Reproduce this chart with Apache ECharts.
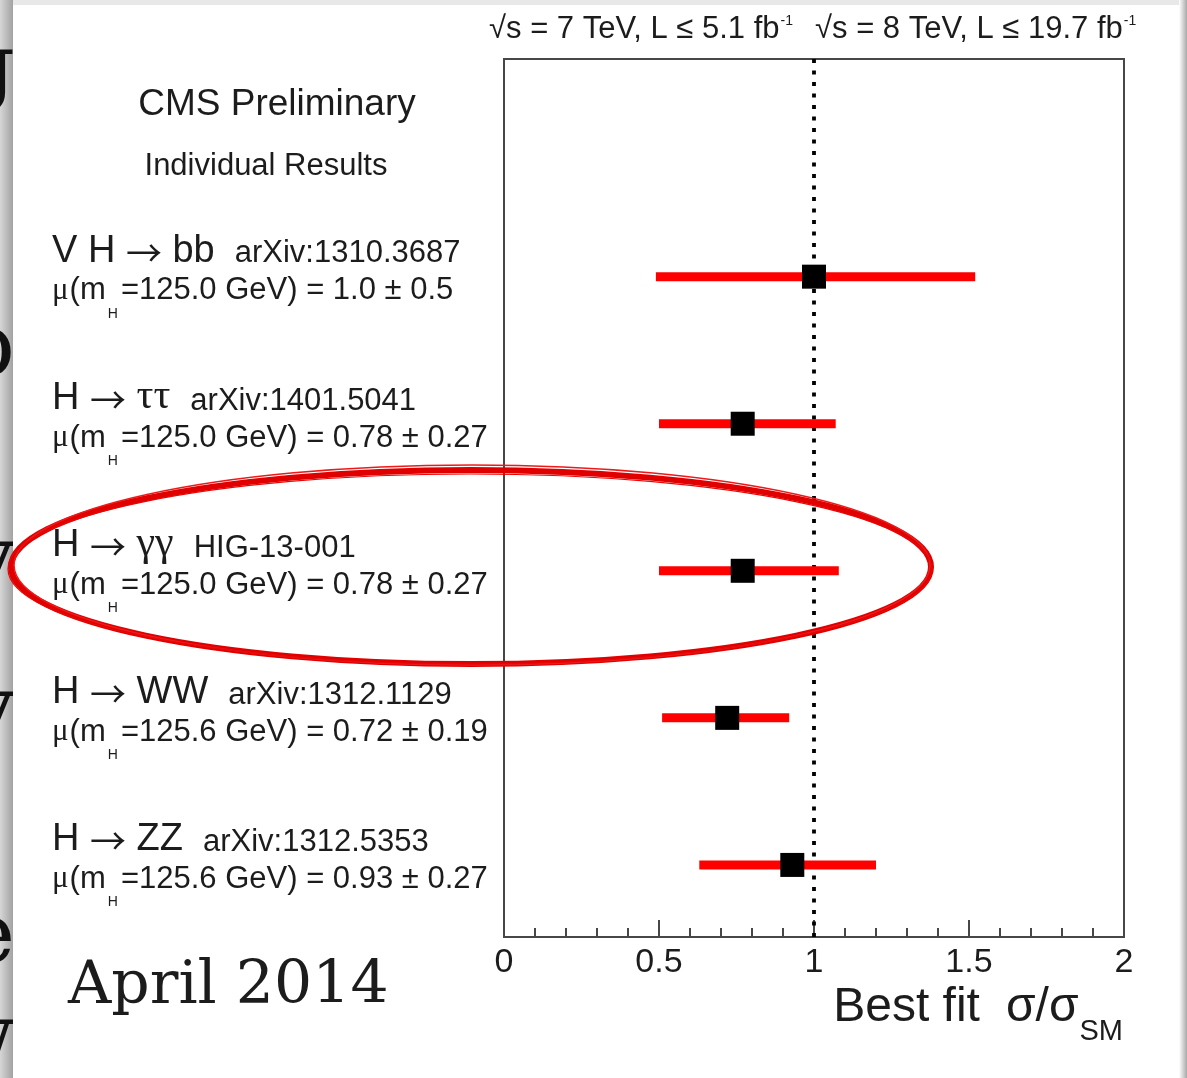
<!DOCTYPE html>
<html><head><meta charset="utf-8">
<script src="https://cdn.jsdelivr.net/npm/echarts@6/dist/echarts.min.js"></script>
<style>html,body{margin:0;padding:0;background:#fff}#c{width:1187px;height:1078px}</style>
</head><body><div id="c"></div>
<script>
// ---------------- data ----------------
const channels   = ['V H → bb', 'H → ττ', 'H → γγ', 'H → WW', 'H → ZZ'];
const references = ['arXiv:1310.3687', 'arXiv:1401.5041', 'HIG-13-001', 'arXiv:1312.1129', 'arXiv:1312.5353'];
const higgsMass  = ['125.0', '125.0', '125.0', '125.6', '125.6'];
const muSummary  = ['1.0 ± 0.5', '0.78 ± 0.27', '0.78 ± 0.27', '0.72 ± 0.19', '0.93 ± 0.27'];
const muBest     = [1.0, 0.77, 0.77, 0.72, 0.93];
const muLow      = [0.49, 0.50, 0.50, 0.51, 0.63];
const muHigh     = [1.52, 1.07, 1.08, 0.92, 1.20];
const smReference = 1;
const energyLabels = [['√s = 7 TeV, L ≤ 5.1 fb', '-1'], ['√s = 8 TeV, L ≤ 19.7 fb', '-1']];
const titleText = 'CMS Preliminary';
const subtitleText = 'Individual Results';
const axisTitle = ['Best fit', 'σ/σ', 'SM'];
const dateText = 'April 2014';

// ---------------- helpers ----------------
const SANS = '"Liberation Sans", Arial, sans-serif';
const SERIF = '"Liberation Serif", serif';
const DSERIF = '"DejaVu Serif", serif';
const ARROW = '"Noto Sans CJK JP", "DejaVu Sans", sans-serif';
const INK = '#1c1c1c';
const MID = 0.346;
const cv = document.createElement('canvas').getContext('2d');
function tw(t, s, fam) { cv.font = s + 'px ' + fam; return cv.measureText(t).width; }
function textEl(t, x, base, s, fam, z, color) {
  return { type: 'text', z: z, x: x, y: base - MID * s,
    style: { text: t, fontSize: s, fontFamily: fam, fill: color || INK, textAlign: 'left', textVerticalAlign: 'middle' } };
}
function runs(x, base, list, opt) {
  opt = opt || {};
  const total = list.reduce((a, r) => a + tw(r.t, r.s, r.fam || SANS) + (r.gap || 0), 0);
  let cx = x;
  if (opt.align === 'right') cx = x - total;
  if (opt.align === 'center') cx = x - total / 2;
  const out = [];
  list.forEach(r => {
    const fam = r.fam || SANS;
    out.push(textEl(r.t, cx, base + (r.dy || 0), r.s, fam, opt.z || 8, r.color));
    cx += tw(r.t, r.s, fam) + (r.gap || 0);
  });
  return out;
}
// split a string into runs: greek -> serif, arrow -> thin CJK arrow, rest -> sans
function segs(str, s) {
  const out = [];
  for (const ch of str) {
    let r;
    if (/[\u0370-\u03ff]/.test(ch)) r = { t: ch, s: s + 4, fam: SERIF };
    else if (ch === '→') r = { t: ch, s: s - 2, fam: ARROW, dy: 1 };
    else r = { t: ch, s: s, fam: SANS };
    const last = out[out.length - 1];
    if (last && last.fam === r.fam) last.t += ch; else out.push(r);
  }
  return out;
}
const n = channels.length;
const rowValue = i => n - 1 - i;

// ---------------- chart ----------------
const chart = echarts.init(document.getElementById('c'), null, { renderer: 'canvas' });
chart.setOption({
  backgroundColor: '#ffffff',
  animation: false,
  grid: { left: 504, right: 63, top: 59, bottom: 141, show: true, borderColor: '#474747', borderWidth: 2, backgroundColor: 'transparent', z: 3 },
  xAxis: {
    type: 'value', min: 0, max: 2, interval: 0.5, z: 4,
    axisLine: { show: true, onZero: false, lineStyle: { color: '#474747', width: 2 } },
    axisTick: { show: true, inside: true, length: 17, lineStyle: { color: '#474747', width: 2 } },
    minorTick: { show: true, splitNumber: 5, length: 9, lineStyle: { color: '#474747', width: 2 } },
    splitLine: { show: false },
    axisLabel: { fontSize: 34, color: INK, margin: 9, fontFamily: SANS }
  },
  yAxis: { type: 'value', min: -0.49, max: 5.48, show: false, splitLine: { show: false } },
  series: [
    {
      type: 'line', data: [], z: 5, silent: true,
      markLine: {
        silent: true, symbol: ['none', 'none'], label: { show: false },
        lineStyle: { color: '#000', width: 3.8, type: [4, 7.5] },
        data: [{ xAxis: smReference }]
      }
    },
    {
      type: 'custom', z: 6, silent: true,
      data: muLow.map((lo, i) => [lo, rowValue(i), muHigh[i]]),
      encode: { x: [0, 2], y: 1 },
      renderItem: function (params, api) {
        const y = api.value(1);
        const p1 = api.coord([api.value(0), y]);
        const p2 = api.coord([api.value(2), y]);
        return { type: 'line', shape: { x1: p1[0], y1: p1[1], x2: p2[0], y2: p2[1] },
                 style: { stroke: '#ff0000', lineWidth: 9, lineCap: 'butt' } };
      }
    },
    {
      type: 'scatter', z: 7, silent: true,
      symbol: 'rect', symbolSize: 24,
      itemStyle: { color: '#000', opacity: 1 },
      data: muBest.map((v, i) => [v, rowValue(i)])
    }
  ]
});

// ---------------- annotations ----------------
const els = [];
els.push({ type: 'rect', z: 0, shape: { x: 0, y: 0, width: 1187, height: 5 }, style: { fill: '#e8e8e8' } });
els.push({ type: 'rect', z: 0, shape: { x: 0, y: 0, width: 13, height: 1078 },
  style: { fill: new echarts.graphic.LinearGradient(0, 0, 1, 0, [{ offset: 0, color: '#d6d6d6' }, { offset: 1, color: '#a2a2a2' }]) } });
els.push({ type: 'rect', z: 0, shape: { x: 1179, y: 0, width: 8, height: 1078 },
  style: { fill: new echarts.graphic.LinearGradient(0, 0, 1, 0, [{ offset: 0, color: '#ffffff' }, { offset: 1, color: '#a8a8a8' }]) } });
[['g', 100], ['b', 381], ['y', 592], ['y', 742], ['e', 969], ['w', 1070]].forEach(g => {
  const s = 85;
  els.push(textEl(g[0], 15 - tw(g[0], s, DSERIF), g[1], s, DSERIF, 1, '#111'));
});
els.push({ type: 'rect', z: 2, shape: { x: 13, y: 5, width: 1166, height: 1073 }, style: { fill: '#ffffff' } });

// header texts
els.push(...runs(277, 118, [{ t: titleText, s: 37 }], { align: 'center' }));
els.push(...runs(266, 177, [{ t: subtitleText, s: 31 }], { align: 'center' }));
els.push(...runs(489, 40, [{ t: energyLabels[0][0], s: 31, gap: 1 }, { t: energyLabels[0][1], s: 14, dy: -14 }]));
els.push(...runs(815, 40, [{ t: energyLabels[1][0], s: 31, gap: 1 }, { t: energyLabels[1][1], s: 14, dy: -14 }]));

// row labels
channels.forEach((ch, i) => {
  const yPix = chart.convertToPixel({ gridIndex: 0 }, [0, rowValue(i)])[1];
  const head = segs(ch, 38);
  head[head.length - 1].gap = 20;
  els.push(...runs(52, yPix - 12, head.concat([{ t: references[i], s: 31 }])));
  els.push(...runs(52, yPix + 25, [
    { t: 'μ', s: 31, fam: SERIF, gap: 1 },
    { t: '(m', s: 31, gap: 2 },
    { t: 'H', s: 14, dy: 17, gap: 3 },
    { t: '=' + higgsMass[i] + ' GeV) = ' + muSummary[i], s: 31 }
  ]));
});

// axis title
els.push(...runs(1123, 1024, [
  { t: axisTitle[0], s: 48, gap: 26 },
  { t: axisTitle[1], s: 48, gap: 1 },
  { t: axisTitle[2], s: 29, dy: 18 }
], { align: 'right' }));
// date
els.push(...runs(68, 1008, [{ t: dateText, s: 60, fam: DSERIF }], {}));

// hand-drawn red ellipse
els.push({ type: 'ellipse', z: 9, shape: { cx: 471, cy: 567, rx: 460, ry: 97 }, style: { fill: 'none', stroke: '#e00000', lineWidth: 6 } });
els.push({ type: 'ellipse', z: 9, shape: { cx: 472, cy: 565, rx: 458, ry: 100 }, style: { fill: 'none', stroke: '#ee1a1a', lineWidth: 1.5 } });
els.push({ type: 'ellipse', z: 9, shape: { cx: 470, cy: 569, rx: 462, ry: 95 }, style: { fill: 'none', stroke: '#e60808', lineWidth: 1.2 } });

chart.setOption({ graphic: { elements: els } });
</script>
</body></html>
